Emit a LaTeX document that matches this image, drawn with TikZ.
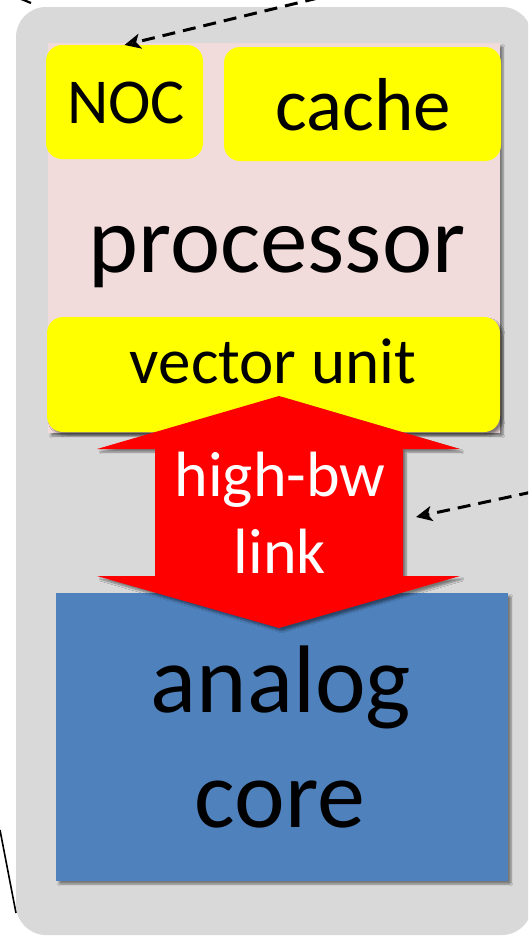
\documentclass[tikz,border=0pt]{standalone}
\usepackage{fontspec}
\setmainfont{Carlito}
\usetikzlibrary{arrows.meta,shadows.blur}
\definecolor{bggray}{HTML}{D9D9D9}
\definecolor{procpink}{HTML}{F2DCDB}
\definecolor{unityellow}{HTML}{FFFF00}
\definecolor{linkred}{HTML}{FF0000}
\definecolor{coreblue}{HTML}{4F81BD}
\tikzset{
  boxnode/.style={anchor=north west, inner sep=0pt, outer sep=0pt},
  softshadow/.style={blur shadow={shadow xshift=3pt, shadow yshift=-3pt, shadow blur steps=6, shadow blur extra rounding=1pt, shadow opacity=45}},
  unitbox/.style={boxnode, fill=unityellow, rounded corners=16pt},
  txt/.style={anchor=base, inner sep=0pt, outer sep=0pt, text=black},
  dasharrow/.style={line width=3pt, dash pattern=on 13pt off 8pt, -{Stealth[length=16pt, width=15pt, inset=4pt]}},
}
\begin{document}
\begin{tikzpicture}[x=1pt, y=-1pt]
\useasboundingbox (0,0) rectangle (528,938);
\clip (0,0) rectangle (528,938);
% outer chip
\node[boxnode, fill=bggray, rounded corners=30pt, minimum width=516pt, minimum height=928pt] (chip) at (16,7) {};
% processor
\node[boxnode, fill=procpink, softshadow, minimum width=452pt, minimum height=390pt] (proc) at (48,43) {};
\node[unitbox, minimum width=157pt, minimum height=114pt] (noc) at (46,45) {};
\node[unitbox, minimum width=277pt, minimum height=114pt] (cache) at (224,47) {};
\node[unitbox, softshadow, minimum width=453pt, minimum height=115pt] (vec) at (47,317) {};
\node[txt, font=\fontsize{64}{77}\selectfont] (noclabel) at (126,123) {NOC};
\node[txt, font=\fontsize{75}{90}\selectfont] (cachelabel) at (363,130) {cache};
\node[txt, font=\fontsize{95}{114}\selectfont] (proclabel) at (277,272) {processor};
\node[txt, font=\fontsize{65}{78}\selectfont] (veclabel) at (273,383) {vector unit};
% analog core
\node[boxnode, fill=coreblue, softshadow, minimum width=452pt, minimum height=288pt] (core) at (56,593) {};
% high-bandwidth link (double arrow)
\fill[linkred, softshadow] (279,396) -- (460,449) -- (403,449) -- (403,576) -- (460,576)
  -- (279,628) -- (97,576) -- (155,576) -- (155,449) -- (97,449) -- cycle;
\node[txt, text=white, font=\fontsize{64}{77}\selectfont] (linklabel1) at (280,496) {high-bw};
\node[txt, text=white, font=\fontsize{64}{77}\selectfont] (linklabel2) at (280,573) {link};
\node[txt, font=\fontsize{96}{115}\selectfont] (corelabel1) at (281,712) {analog};
\node[txt, font=\fontsize{96}{115}\selectfont] (corelabel2) at (280,827) {core};
% connectors
\coordinate (src1) at (318,-2);
\coordinate (src2) at (532,492);
\coordinate (linkside) at (416,517);
\draw[dasharrow] (src1) -- (noc.north);
\draw[dasharrow] (src2) -- (linkside);
\coordinate (l1a) at (0,830);
\coordinate (l1b) at (16,913);
\draw[line width=1.6pt] (l1a) -- (l1b);
\coordinate (l2a) at (20,-1.5);
\coordinate (l2b) at (31,3);
\draw[line width=2.2pt] (l2a) -- (l2b);
\end{tikzpicture}
\end{document}
